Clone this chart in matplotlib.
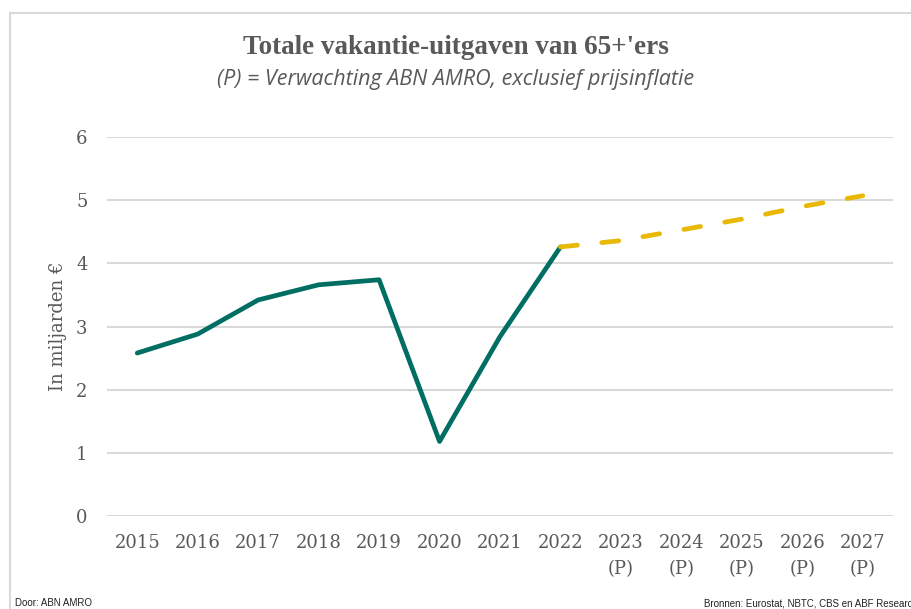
import matplotlib
matplotlib.use("Agg")
import matplotlib.pyplot as plt
from matplotlib.lines import Line2D

years = ["2015", "2016", "2017", "2018", "2019", "2020", "2021", "2022",
         "2023\n(P)", "2024\n(P)", "2025\n(P)", "2026\n(P)", "2027\n(P)"]
actual = [2.58, 2.88, 3.42, 3.66, 3.74, 1.18, 2.84, 4.26]
forecast = [4.26, 4.36, 4.53, 4.70, 4.90, 5.07]  # 2022 .. 2027
yticks = [0, 1, 2, 3, 4, 5, 6]

title = "Totale vakantie-uitgaven van 65+'ers"
subtitle = "(P) = Verwachting ABN AMRO, exclusief prijsinflatie"
ylabel = "In miljarden €"
left_note = "Door: ABN AMRO"
right_note = "Bronnen: Eurostat, NBTC, CBS en ABF Research"

GREEN = "#006E62"
YELLOW = "#E8B804"
GRID = "#D9D9D9"
TXT = "#595959"
SERIF = ["DejaVu Serif"]
TSERIF = ["Liberation Serif", "DejaVu Serif"]

fig = plt.figure(figsize=(9.11, 6.09), dpi=100)
ax = fig.add_axes([107/911, 1-516/609, (893-107)/911, (516-137)/609])

x_act = list(range(len(actual)))
x_fc = list(range(len(actual)-1, len(actual)-1+len(forecast)))
ax.plot(x_act, actual, color=GREEN, lw=3.4, solid_capstyle="round",
        solid_joinstyle="round", zorder=3)
ax.plot(x_fc, forecast, color=YELLOW, lw=3.4, dash_capstyle="round",
        dashes=(3.6, 5.2), zorder=3)

ax.set_xlim(-0.5, len(years) - 0.5)
ax.set_ylim(0, 6)
ax.set_yticks(yticks)
ax.set_xticks(range(len(years)))
ax.set_xticklabels(years, family=SERIF, fontsize=13, color=TXT, linespacing=1.6)
ax.set_yticklabels([str(v) for v in yticks], family=SERIF, fontsize=13, color=TXT)
ax.tick_params(axis="x", length=0, pad=13)
ax.tick_params(axis="y", length=0, pad=14)
ax.grid(axis="y", color=GRID, lw=1.5, zorder=0)
for s in ax.spines.values():
    s.set_visible(False)
ax.set_axisbelow(True)

fig.text(58/911, 1-326/609, ylabel, rotation=90, ha="center", va="center",
         family=SERIF, fontsize=13, color=TXT)

fig.text(0.5, 1-48/609, title, ha="center", va="center", family=TSERIF,
         fontsize=19.5, fontweight="bold", color=TXT)
fig.text(0.5, 1-80/609, subtitle, ha="center", va="center",
         family=["Open Sans", "DejaVu Sans"], style="italic", fontsize=15.5, color=TXT)

fig.text(15/911, 1-603/609, left_note, ha="left", va="center",
         family=["Liberation Sans"], fontsize=7, color="#222222")
fig.text(704/911, 1-603/609, right_note, ha="left", va="center",
         family=["Liberation Sans"], fontsize=7, color="#222222")

# outer frame (top and left only visible)
fig.add_artist(Line2D([10/911, 1.0], [1-13/609, 1-13/609], transform=fig.transFigure,
                      color=GRID, lw=1.5))
fig.add_artist(Line2D([10/911, 10/911], [1-13/609, 0.0], transform=fig.transFigure,
                      color=GRID, lw=1.5))

fig.savefig("out.png", dpi=100)
